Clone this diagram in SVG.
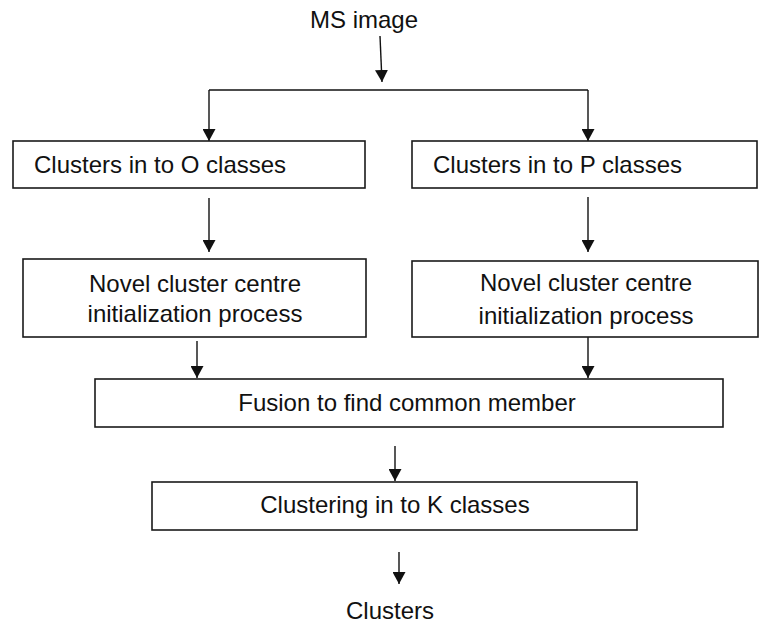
<svg xmlns="http://www.w3.org/2000/svg" width="759" height="624" viewBox="0 0 759 624">
<style>
.box{fill:#fff;stroke:#1a1a1a;stroke-width:1.6}
.t{font-family:"Liberation Sans",Arial,sans-serif;font-size:24px;fill:#111}
.c{text-anchor:middle}
.ln{fill:none;stroke:#111;stroke-width:1.4}
</style>
<defs>
<marker id="ah" markerUnits="userSpaceOnUse" markerWidth="12" markerHeight="13" refX="12" refY="6.5" orient="auto">
<path d="M0,0 L12,6.5 L0,13 z" fill="#111"/>
</marker>
</defs>
<rect width="759" height="624" fill="#fff"/>
<g id="connectors">
<line class="ln" x1="380" y1="36" x2="382" y2="82" marker-end="url(#ah)"/>
<line class="ln" x1="209" y1="90" x2="588" y2="90"/>
<line class="ln" x1="209" y1="90" x2="209" y2="141" marker-end="url(#ah)"/>
<line class="ln" x1="588" y1="90" x2="588" y2="141" marker-end="url(#ah)"/>
<line class="ln" x1="209" y1="198" x2="209" y2="252" marker-end="url(#ah)"/>
<line class="ln" x1="588" y1="197" x2="588" y2="252" marker-end="url(#ah)"/>
<line class="ln" x1="197" y1="341" x2="197" y2="378" marker-end="url(#ah)"/>
<line class="ln" x1="588" y1="337" x2="588" y2="378" marker-end="url(#ah)"/>
<line class="ln" x1="395" y1="446" x2="395" y2="481" marker-end="url(#ah)"/>
<line class="ln" x1="399" y1="552" x2="399" y2="584" marker-end="url(#ah)"/>
</g>
<g id="ms-image">
<text class="t c" x="364" y="28">MS image</text>
</g>
<g id="clusters-o">
<rect class="box" x="13" y="141" width="352" height="47"/>
<text class="t" x="34" y="173">Clusters in to O classes</text>
</g>
<g id="clusters-p">
<rect class="box" x="412" y="141" width="345" height="47"/>
<text class="t" x="433" y="173">Clusters in to P classes</text>
</g>
<g id="novel-left">
<rect class="box" x="23" y="259" width="343" height="78"/>
<text class="t c" x="195" y="292">Novel cluster centre</text>
<text class="t c" x="195" y="322">initialization process</text>
</g>
<g id="novel-right">
<rect class="box" x="412" y="261" width="346" height="76"/>
<text class="t c" x="586" y="291">Novel cluster centre</text>
<text class="t c" x="586" y="324">initialization process</text>
</g>
<g id="fusion">
<rect class="box" x="95" y="379" width="628" height="48"/>
<text class="t c" x="407" y="411">Fusion to find common member</text>
</g>
<g id="clustering-k">
<rect class="box" x="152" y="482" width="485" height="48"/>
<text class="t c" x="395" y="513">Clustering in to K classes</text>
</g>
<g id="clusters-out">
<text class="t c" x="390" y="619">Clusters</text>
</g>
</svg>
